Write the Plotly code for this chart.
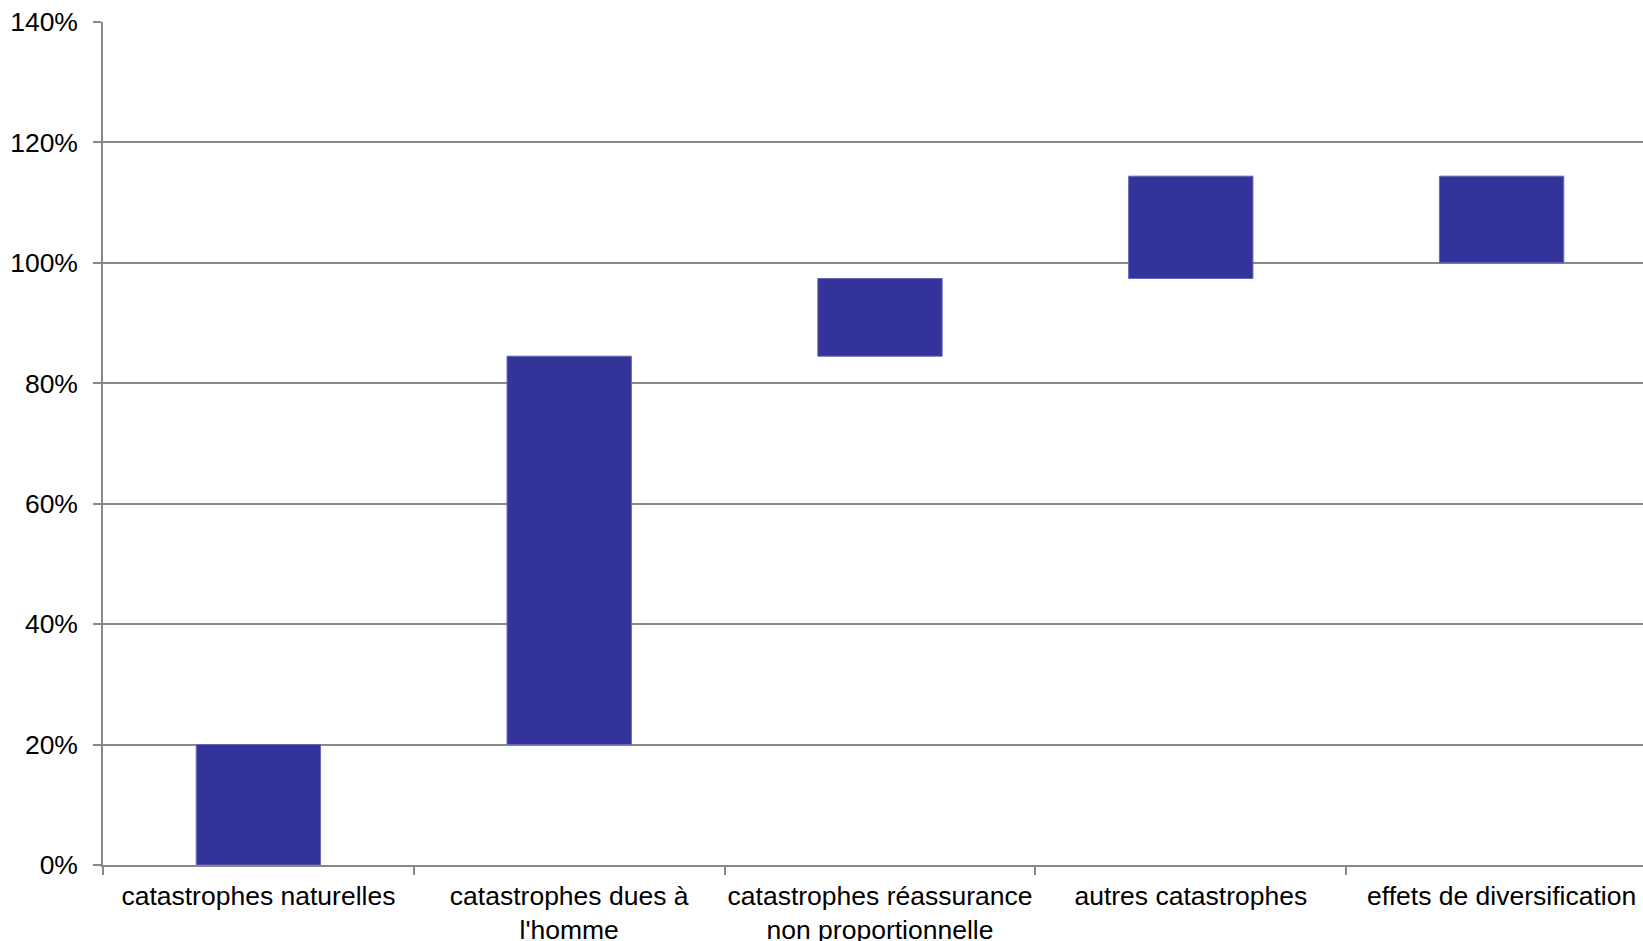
import plotly.graph_objects as go

categories = ["catastrophes naturelles", "catastrophes dues à<br>l'homme",
              "catastrophes réassurance<br>non proportionnelle", "autres catastrophes",
              "effets de diversification"]
values = [20.0, 64.5, 12.9, 17.0, -14.4]
tick_vals = [0, 20, 40, 60, 80, 100, 120, 140]

bases = []
run = 0.0
for v in values:
    bases.append(run)
    run += v

fig = go.Figure()
fig.add_trace(go.Bar(
    x=categories, y=values, base=bases, width=0.4,
    marker=dict(color="#333399", line=dict(color="#6666bb", width=1)),
    hoverinfo="skip",
))

font = dict(family="Liberation Sans, Arial, sans-serif", size=26.5, color="#000000")
fig.update_layout(
    width=1643, height=941,
    margin=dict(l=103, r=0, t=22, b=76, autoexpand=False),
    paper_bgcolor="white", plot_bgcolor="white",
    showlegend=False, font=font,
    xaxis=dict(
        type="category", range=[-0.5, 4.455], tickangle=0,
        showgrid=False, zeroline=False, automargin=False,
        showline=True, linecolor="#888888", linewidth=1.5,
        ticks="outside", ticklen=8, tickcolor="#888888", tickwidth=1.5,
        tickson="boundaries", tickfont=font, ticklabelstandoff=6,
    ),
    yaxis=dict(
        range=[0, 140], tickmode="array", tickvals=tick_vals,
        ticktext=[f"{t}%" for t in tick_vals], automargin=False,
        showgrid=True, gridcolor="#888888", gridwidth=1.5, zeroline=False,
        showline=True, linecolor="#888888", linewidth=1.5,
        ticks="outside", ticklen=8, tickcolor="#888888", tickwidth=1.5,
        ticklabelstandoff=10, tickfont=font,
    ),
)
fig.write_html("out.html")
